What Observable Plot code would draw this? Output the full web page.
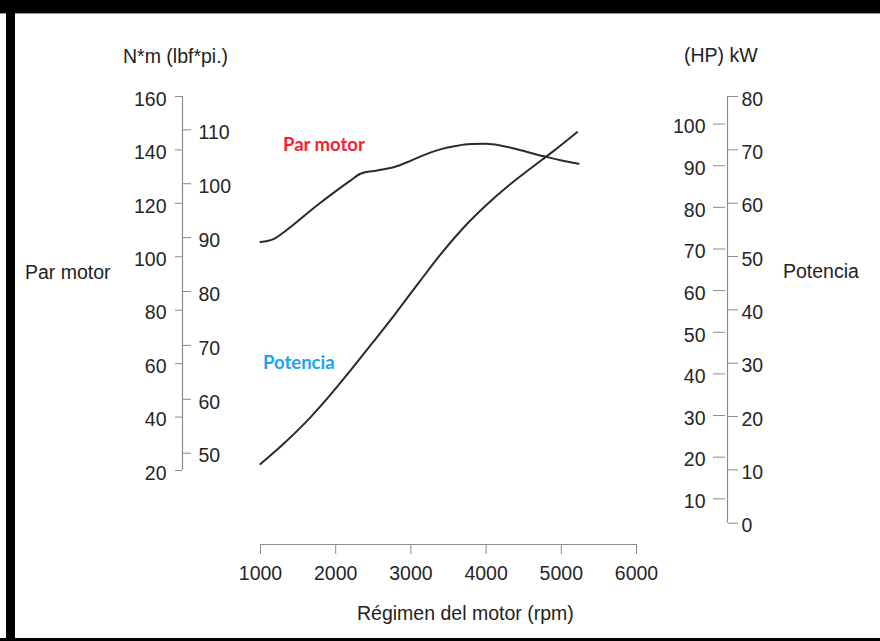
<!DOCTYPE html>
<html>
<head>
<meta charset="utf-8">
<script src="https://cdn.jsdelivr.net/npm/d3@7"></script>
<script src="https://cdn.jsdelivr.net/npm/@observablehq/plot@0.6"></script>
<style>
  html, body { margin: 0; padding: 0; background: #fff; }
  #wrap { position: relative; width: 880px; height: 641px; overflow: hidden; background: #fff;
          font-family: "Liberation Sans", Arial, sans-serif; color: #222; }
  #wrap svg { position: absolute; left: 0; top: 0; }
  .lbl { position: absolute; font-size: 19.5px; line-height: 1; white-space: nowrap; }
  .note { position: absolute; font-family: Lato, "Noto Sans", sans-serif; font-weight: 700; font-size: 18.5px; line-height: 1; white-space: nowrap; }
  .band { position: absolute; background: #000; }
</style>
</head>
<body>
<div id="wrap">
  <div class="band" style="left:0;top:0;width:880px;height:13px;"></div>
  <div class="band" style="left:0;top:13px;width:880px;height:1px;background:#9a9a9a;"></div>
  <div class="band" style="left:6px;top:0;width:9px;height:641px;"></div>
  <div class="band" style="left:0;top:638px;width:880px;height:3px;"></div>
  <div class="lbl" style="left:123px;top:47px;">N*m (lbf*pi.)</div>
  <div class="lbl" style="left:25px;top:263px;">Par motor</div>
  <div class="lbl" style="left:684px;top:46px;">(HP) kW</div>
  <div class="lbl" style="left:783px;top:262px;">Potencia</div>
  <div class="lbl" style="left:357px;top:604px;">Régimen del motor (rpm)</div>
  <div class="note" style="left:283px;top:135px;color:#f5222f;">Par motor</div>
  <div class="note" style="left:263px;top:353px;color:#1aa4ee;">Potencia</div>
</div>
<script>
// ---- data ----
const rpmTorque = [1000, 1180, 1310, 1750, 2200, 2330, 2550, 2770, 2950, 3130, 3390, 3600, 3800, 4000, 4200, 4460, 4770, 4990, 5230];
const torqueNm  = [105.5, 106.7, 109.2, 119.2, 128.6, 131.1, 132.3, 133.5, 135.4, 137.6, 140.2, 141.5, 142.2, 142.3, 141.6, 139.9, 137.6, 136.1, 134.8];

const rpmPower = [1000, 1300, 1600, 1900, 2200, 2500, 2800, 3100, 3400, 3700, 4000, 4300, 4600, 4900, 5210];
const powerKw  = [11.1, 14.8, 18.9, 23.6, 28.7, 34.0, 39.4, 45.0, 50.5, 55.4, 59.6, 63.3, 66.6, 69.8, 73.3];

const xTicks   = [1000, 2000, 3000, 4000, 5000, 6000];
const nmTicks  = [20, 40, 60, 80, 100, 120, 140, 160];
const lbfTicks = [50, 60, 70, 80, 90, 100, 110];
const kwTicks  = [0, 10, 20, 30, 40, 50, 60, 70, 80];
const hpTicks  = [10, 20, 30, 40, 50, 60, 70, 80, 90, 100];

// secondary scales as drawn in the picture (linear relation of the printed ticks)
const lbfToNm = L => 26.47 + (L - 50) * (121.06 / 60);
const hpToKw  = h => 4.57 + (h - 10) * (70.26 / 90);

const torqueData = rpmTorque.map((r, i) => ({rpm: r, v: torqueNm[i]}));
const powerData  = rpmPower.map((r, i) => ({rpm: r, v: powerKw[i]}));

const FONT = '"Liberation Sans", Arial, sans-serif';
const AX = "#8c8c8c";
const TX = "#262626";
const CURVE = "#2b2b2b";
const W = 880, H = 641;
const style = {fontFamily: FONT, fontSize: "19.5px", background: "transparent", color: TX, overflow: "visible"};

const lbfLabel = new Map(lbfTicks.map(L => [lbfToNm(L), L]));
const hpLabel  = new Map(hpTicks.map(h => [hpToKw(h), h]));

const torquePlot = Plot.plot({
  width: W, height: H,
  marginLeft: 260, marginRight: 244, marginTop: 96, marginBottom: 171,
  x: {domain: [1000, 6000]},
  y: {domain: [20, 160]},
  style,
  marks: [
    // N*m axis (left of the line)
    Plot.axisY({anchor: "left", ticks: nmTicks, tickSize: 7, fill: "none", stroke: AX, dx: -78, label: null}),
    Plot.axisY({anchor: "left", ticks: nmTicks, tickSize: 0, tickPadding: 16, dx: -78, dy: 3, fill: TX, label: null}),
    // lbf*ft axis (right of the line)
    Plot.axisY({anchor: "right", ticks: lbfTicks.map(lbfToNm), tickSize: 8, fill: "none", stroke: AX, dx: -454, label: null}),
    Plot.axisY({anchor: "right", ticks: lbfTicks.map(lbfToNm), tickFormat: d => String(lbfLabel.get(d)), tickSize: 0, tickPadding: 16, dx: -454, dy: 3, fill: TX, label: null}),
    Plot.ruleX([d3.min(xTicks)], {y1: d3.min(nmTicks), y2: d3.max(nmTicks), dx: -78, stroke: AX, strokeWidth: 1.2}),
    // x axis
    Plot.axisX({anchor: "bottom", ticks: xTicks, tickFormat: "d", tickSize: 10, tickPadding: 12, dy: 74, stroke: AX, fill: TX, label: null}),
    Plot.ruleY([d3.min(nmTicks)], {x1: d3.min(xTicks), x2: d3.max(xTicks), dy: 74, stroke: AX, strokeWidth: 1.2}),
    // torque curve
    Plot.line(torqueData, {x: "rpm", y: "v", curve: "monotone-x", stroke: CURVE, strokeWidth: 2})
  ]
});

const powerPlot = Plot.plot({
  width: W, height: H,
  marginLeft: 260, marginRight: 244, marginTop: 96, marginBottom: 118.3,
  x: {domain: [1000, 6000], axis: null},
  y: {domain: [0, 80]},
  style,
  marks: [
    // kW axis (right of the line)
    Plot.axisY({anchor: "right", ticks: kwTicks, tickSize: 10, fill: "none", stroke: AX, dx: 91, label: null}),
    Plot.axisY({anchor: "right", ticks: kwTicks, tickSize: 0, tickPadding: 14, dx: 91, dy: 3, fill: TX, label: null}),
    // HP axis (left of the line)
    Plot.axisY({anchor: "left", ticks: hpTicks.map(hpToKw), tickSize: 12, fill: "none", stroke: AX, dx: 465, label: null}),
    Plot.axisY({anchor: "left", ticks: hpTicks.map(hpToKw), tickFormat: d => String(hpLabel.get(d)), tickSize: 0, tickPadding: 20, dx: 465, dy: 3, fill: TX, label: null}),
    Plot.ruleX([d3.max(xTicks)], {y1: d3.min(kwTicks), y2: d3.max(kwTicks), dx: 91, stroke: AX, strokeWidth: 1.2}),
    // power curve
    Plot.line(powerData, {x: "rpm", y: "v", curve: "monotone-x", stroke: CURVE, strokeWidth: 2})
  ]
});

const wrap = document.getElementById("wrap");
wrap.insertBefore(torquePlot, wrap.firstChild);
wrap.insertBefore(powerPlot, wrap.firstChild.nextSibling);
</script>
</body>
</html>
